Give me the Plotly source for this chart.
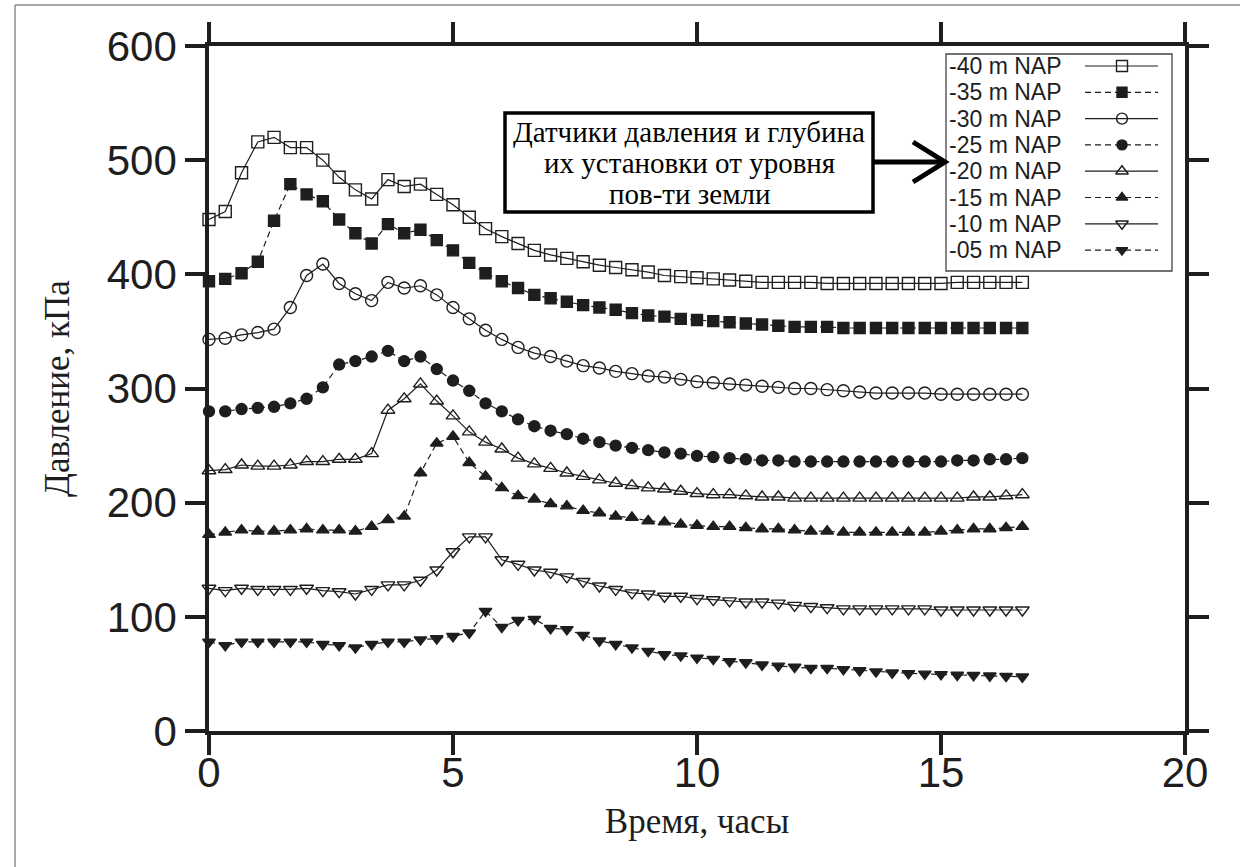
import plotly.graph_objects as go

# ---------------- data ----------------
hours = [0, 0.333, 0.667, 1, 1.333, 1.667, 2, 2.333, 2.667, 3, 3.333, 3.667, 4, 4.333,
         4.667, 5, 5.333, 5.667, 6, 6.333, 6.667, 7, 7.333, 7.667, 8, 8.333, 8.667, 9,
         9.333, 9.667, 10, 10.333, 10.667, 11, 11.333, 11.667, 12, 12.333, 12.667, 13,
         13.333, 13.667, 14, 14.333, 14.667, 15, 15.333, 15.667, 16, 16.333, 16.667]

p40 = [448, 455, 489, 516, 520, 511, 511, 500, 485, 474, 466, 483, 477, 479, 470, 461, 450,
       440, 433, 427, 421, 417, 414, 411, 408, 406, 404, 402, 399, 398, 397, 396, 395, 394,
       393, 393, 393, 393, 392, 392, 392, 392, 392, 392, 392, 392, 393, 393, 393, 393, 393]
p35 = [394, 396, 401, 411, 447, 479, 470, 464, 448, 436, 427, 444, 436, 439, 430, 421, 410,
       401, 394, 388, 382, 379, 376, 373, 371, 369, 366, 364, 363, 361, 360, 359, 358, 357,
       356, 355, 354, 354, 354, 353, 353, 353, 353, 353, 353, 353, 353, 353, 353, 353, 353]
p30 = [343, 344, 347, 349, 352, 371, 399, 409, 392, 383, 377, 393, 388, 390, 382, 371, 361,
       351, 343, 336, 331, 328, 324, 320, 318, 315, 313, 311, 310, 308, 306, 305, 304, 303,
       302, 301, 300, 300, 299, 298, 297, 296, 296, 296, 296, 295, 295, 295, 295, 295, 295]
p25 = [280, 280, 282, 283, 284, 287, 291, 301, 321, 324, 328, 333, 324, 328, 317, 307, 298,
       287, 280, 273, 267, 263, 260, 256, 253, 250, 248, 246, 244, 243, 241, 240, 239, 238,
       237, 237, 236, 236, 236, 236, 236, 236, 236, 236, 236, 236, 237, 237, 238, 238, 239]
p20 = [228, 229, 233, 232, 232, 233, 236, 236, 238, 238, 243, 281, 291, 304, 289, 276, 262,
       253, 247, 239, 234, 230, 226, 223, 220, 217, 215, 213, 212, 210, 208, 207, 207, 206,
       205, 205, 204, 204, 204, 204, 204, 204, 204, 204, 204, 204, 204, 205, 205, 206, 207]
p15 = [172, 174, 176, 175, 175, 176, 177, 176, 176, 175, 179, 185, 188, 226, 252, 258, 235,
       223, 213, 206, 203, 199, 197, 193, 191, 188, 187, 184, 183, 181, 180, 179, 179, 178,
       177, 177, 176, 175, 175, 174, 174, 174, 174, 174, 174, 175, 176, 177, 177, 178, 179]
p10 = [125, 123, 125, 124, 124, 124, 125, 123, 122, 120, 124, 128, 128, 132, 141, 157, 170,
       170, 150, 146, 141, 139, 135, 131, 127, 124, 121, 120, 118, 118, 116, 115, 114, 113,
       113, 112, 110, 109, 108, 107, 107, 107, 107, 107, 107, 106, 106, 106, 106, 106, 106]
p05 = [78, 75, 78, 78, 78, 78, 78, 76, 75, 73, 76, 78, 78, 80, 81, 83, 86, 105, 91, 97, 98,
       90, 89, 84, 79, 76, 73, 70, 67, 66, 64, 63, 61, 60, 58, 57, 56, 55, 55, 54, 53, 52,
       51, 50.5, 50, 49.6, 49, 48.8, 48.4, 48, 47.5]

labels = ["-40 m NAP", "-35 m NAP", "-30 m NAP", "-25 m NAP",
          "-20 m NAP", "-15 m NAP", "-10 m NAP", "-05 m NAP"]
series = [p40, p35, p30, p25, p20, p15, p10, p05]
symbols = ["square-open", "square", "circle-open", "circle",
           "triangle-up-open", "triangle-up", "triangle-down-open", "triangle-down"]
sizes = [12, 11, 12, 11, 12, 11, 12, 11]
dashes = ["solid", "6px,4px", "solid", "6px,4px", "solid", "6px,4px", "solid", "6px,4px"]

x_ticks = [0, 5, 10, 15, 20]
y_ticks = [0, 100, 200, 300, 400, 500, 600]
box_lines = ["Датчики давления и глубина", "их установки от уровня", "пов-ти земли"]

INK = "#1e1e1e"
SANS = "Liberation Sans, Arial, sans-serif"
SERIF = "Liberation Serif, Times New Roman, serif"

fig = go.Figure()
for lab, vals, sym, sz, dsh in zip(labels, series, symbols, sizes, dashes):
    fig.add_trace(go.Scatter(
        x=hours, y=vals, mode="lines+markers", name=lab, cliponaxis=False,
        line=dict(color=INK, width=1.2, dash=dsh),
        marker=dict(symbol=sym, size=sz, color=INK, line=dict(color=INK, width=1.4)),
        showlegend=False, hoverinfo="x+y+name"))

# ---------- custom legend (text left, sample right) on a pixel overlay axis ----------
L_LEFT, L_TOP, L_RIGHT, L_BOTTOM = 946, 54, 1172, 271
row0, pitch = 66, 26.3
for i, (lab, sym, sz, dsh) in enumerate(zip(labels, symbols, sizes, dashes)):
    yy = row0 + i * pitch
    fig.add_trace(go.Scatter(
        x=[1085, 1158], y=[yy, yy], xaxis="x2", yaxis="y2", mode="lines",
        line=dict(color=INK, width=1.2, dash=dsh), showlegend=False,
        hoverinfo="skip", cliponaxis=False))
    fig.add_trace(go.Scatter(
        x=[1122], y=[yy], xaxis="x2", yaxis="y2", mode="markers",
        marker=dict(symbol=sym, size=sz - 1, color=INK, line=dict(color=INK, width=1.4)),
        showlegend=False, hoverinfo="skip", cliponaxis=False))
    fig.add_annotation(x=948, y=yy, xref="x2", yref="y2", text=lab, showarrow=False,
                       xanchor="left", yanchor="middle", borderpad=0,
                       font=dict(family=SANS, size=23, color=INK))

shapes = [
    dict(type="rect", xref="x2", yref="y2", x0=L_LEFT, x1=L_RIGHT, y0=L_TOP, y1=L_BOTTOM,
         line=dict(color="#444", width=1.3), fillcolor="white", layer="below"),
    dict(type="rect", xref="x2", yref="y2", x0=505, x1=873, y0=113, y1=212,
         line=dict(color="black", width=3.5), fillcolor="white", layer="below"),
    dict(type="line", xref="x2", yref="y2", x0=873, x1=943, y0=162, y1=162,
         line=dict(color="black", width=5)),
    dict(type="path", xref="x2", yref="y2",
         path="M 913,142 L 945,162 L 913,182", line=dict(color="black", width=5)),
    # outer scanned-page frame (left and top edges)
    dict(type="line", xref="paper", yref="paper", x0=(15 - 209) / 976, x1=(15 - 209) / 976,
         y0=(731 - 5) / 685, y1=(731 - 870) / 685, line=dict(color="#8a8a8a", width=1.5)),
    dict(type="line", xref="paper", yref="paper", x0=(15 - 209) / 976, x1=(1245 - 209) / 976,
         y0=(731 - 5) / 685, y1=(731 - 5) / 685, line=dict(color="#8a8a8a", width=1.5)),
]
for txt, yy in zip(box_lines, [132, 163, 194]):
    fig.add_annotation(x=689, y=yy, xref="x2", yref="y2", text=txt, showarrow=False,
                       xanchor="center", yanchor="middle", borderpad=0,
                       font=dict(family=SERIF, size=29, color="black"))

axis_common = dict(showgrid=False, zeroline=False, ticks="outside", ticklen=20,
                   tickwidth=3.5, tickcolor=INK, showline=True, linewidth=3.5,
                   linecolor=INK, mirror="ticks",
                   tickfont=dict(family=SANS, size=42, color=INK))

fig.update_layout(
    width=1240, height=867,
    margin=dict(l=209, r=55, t=46, b=136, autoexpand=False),
    paper_bgcolor="white", plot_bgcolor="white",
    xaxis=dict(range=[0, 20], tickvals=x_ticks, **axis_common, ticklabelstandoff=-18,
               title=dict(text="Время, часы", standoff=14,
                          font=dict(family=SERIF, size=35, color=INK))),
    yaxis=dict(range=[0, 600], tickvals=y_ticks, **axis_common,
               title=dict(text="Давление, кПа", standoff=28,
                          font=dict(family=SERIF, size=35, color=INK))),
    xaxis2=dict(overlaying="x", range=[209, 1185], visible=False, fixedrange=True),
    yaxis2=dict(overlaying="y", range=[731, 46], visible=False, fixedrange=True),
    shapes=shapes,
    showlegend=False,
)

fig.write_html("out.html")
